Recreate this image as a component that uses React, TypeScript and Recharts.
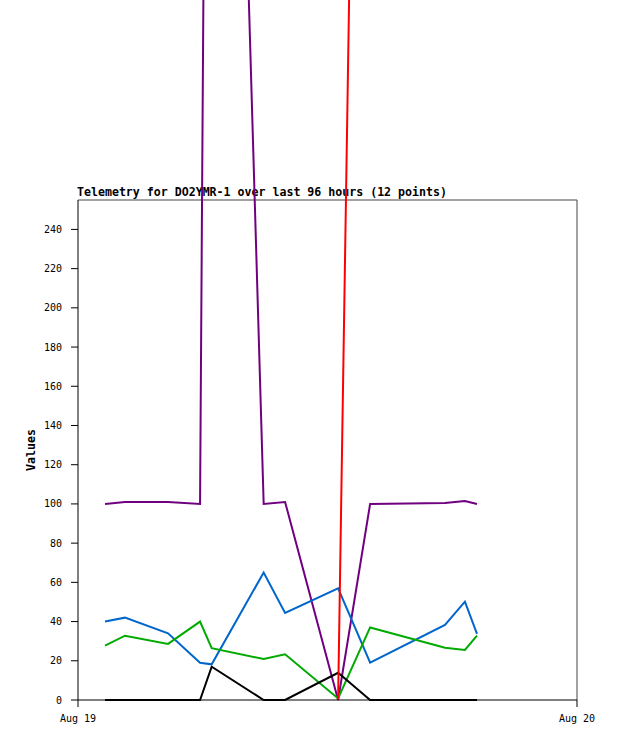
import { LineChart, Line, XAxis, YAxis, ReferenceLine } from 'recharts'

// hours since Aug 19 00:00
const hours = [1.3, 2.26, 4.33, 5.87, 6.43, 8.93, 9.96, 12.51, 14.05, 17.65, 18.61, 19.19]
const purple = [100, 101, 101, 100, 1000, 100, 101, 0, 100, 100.5, 101.5, 100]
const blue = [40, 42, 34, 19, 18.2, 65, 44.4, 57, 19, 38.3, 50.2, 33.7]
const green = [27.7, 32.8, 28.6, 40, 26.4, 20.9, 23.3, 0.8, 37, 26.7, 25.5, 32.8]
const black = [0, 0, 0, 0, 17, 0, 0, 13.9, 0, 0, 0, 0]
const red = [null, null, null, null, null, null, null, 0, 1040, 1050, 1045, 1040]

const yTicks = [0, 20, 40, 60, 80, 100, 120, 140, 160, 180, 200, 220, 240]
const xTicks = [0, 24]
const xLabels = ['Aug 19', 'Aug 20']

const data = hours.map((h, i) => ({
  t: h,
  purple: purple[i],
  blue: blue[i],
  green: green[i],
  black: black[i],
  red: red[i],
}))

const mono = 'DejaVu Sans Mono, monospace'
const tick = { fontSize: 10, fill: '#000', fontFamily: mono }

export default function App() {
  return (
    <div style={{ position: 'relative', width: 618, height: 741 }}>
      <style>{`body{margin:0}.recharts-line,.recharts-line *{clip-path:none !important}`}</style>
      <div
        style={{
          position: 'absolute',
          left: 77,
          top: 186,
          fontFamily: mono,
          fontWeight: 'bold',
          fontSize: 11.6,
          lineHeight: '13px',
          whiteSpace: 'nowrap',
        }}
      >
        Telemetry for DO2YMR-1 over last 96 hours (12 points)
      </div>
      <LineChart width={618} height={741} data={data} margin={{ top: 200, right: 41, left: 0, bottom: 0 }}>
        <XAxis
          dataKey="t"
          type="number"
          domain={[0, 24]}
          ticks={xTicks}
          tickFormatter={(v: number) => xLabels[xTicks.indexOf(v)]}
          height={41}
          tick={tick}
          tickSize={7}
          tickMargin={8}
          stroke="#000"
          interval={0}
        />
        <YAxis
          type="number"
          domain={[0, 255]}
          allowDataOverflow
          ticks={yTicks}
          width={78}
          tick={tick}
          tickSize={7}
          tickMargin={9}
          stroke="#000"
          interval={0}
          label={{
            value: 'Values',
            angle: -90,
            position: 'insideLeft',
            offset: 31,
            style: { textAnchor: 'middle', fontFamily: mono, fontWeight: 'bold', fontSize: 11.6, fill: '#000' },
          }}
        />
        <ReferenceLine y={255} stroke="#444" strokeWidth={1} />
        <ReferenceLine x={24} stroke="#444" strokeWidth={1} />
        <Line dataKey="purple" stroke="#700080" strokeWidth={2} dot={false} isAnimationActive={false} />
        <Line dataKey="blue" stroke="#0066cc" strokeWidth={2} dot={false} isAnimationActive={false} />
        <Line dataKey="green" stroke="#00aa00" strokeWidth={2} dot={false} isAnimationActive={false} />
        <Line dataKey="black" stroke="#000000" strokeWidth={2} dot={false} isAnimationActive={false} />
        <Line dataKey="red" stroke="#ff0000" strokeWidth={2} dot={false} isAnimationActive={false} />
      </LineChart>
    </div>
  )
}
